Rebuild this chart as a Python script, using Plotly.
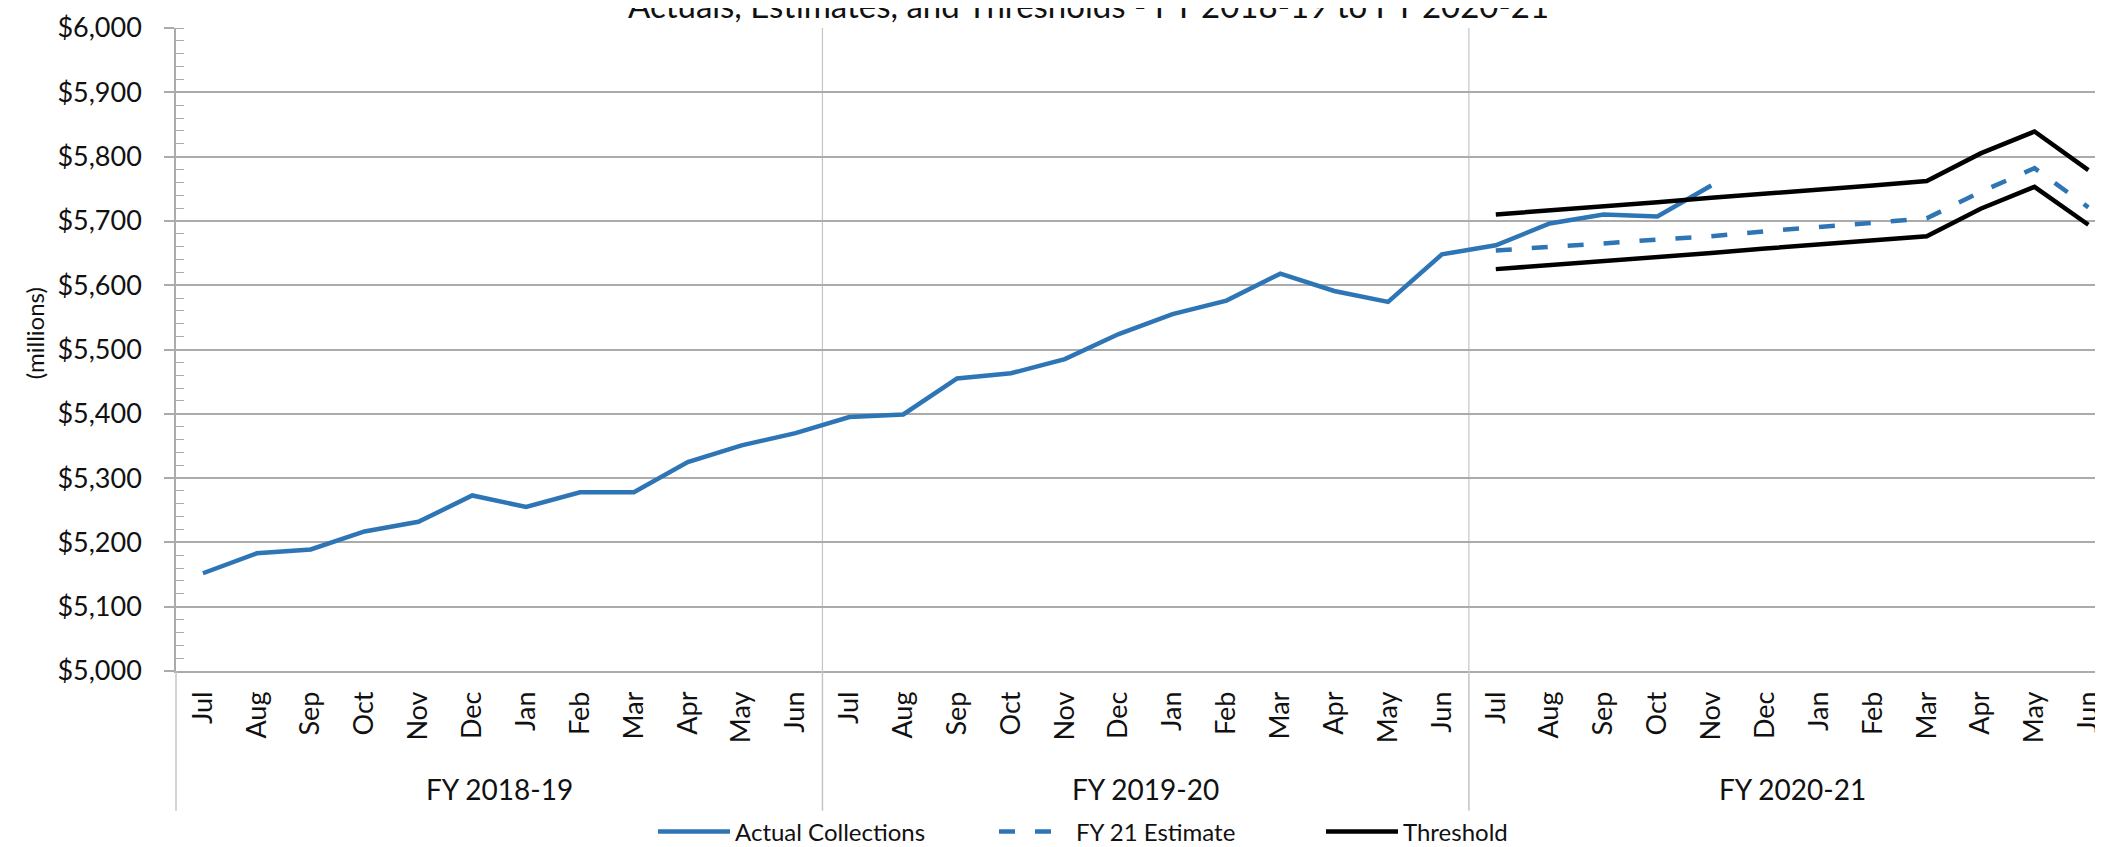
import plotly.graph_objects as go

# ---------------- data ----------------
months = ["Jul", "Aug", "Sep", "Oct", "Nov", "Dec", "Jan", "Feb", "Mar", "Apr", "May", "Jun"]
fiscal_years = ["FY 2018-19", "FY 2019-20", "FY 2020-21"]

actual_collections = [5152, 5183, 5189, 5217, 5232, 5273, 5255, 5278, 5278, 5325, 5351, 5370,
                      5395, 5399, 5455, 5463, 5485, 5524, 5555, 5576, 5618, 5591, 5574, 5648,
                      5662, 5696, 5710, 5707, 5755]
fy21_estimate = [5654, 5659, 5665, 5671, 5676, 5684, 5690, 5697, 5704, 5745, 5782, 5721]
threshold_upper = [5710, 5716, 5723, 5729, 5736, 5742, 5749, 5755, 5762, 5805, 5839, 5779]
threshold_lower = [5625, 5631, 5637, 5644, 5650, 5657, 5663, 5670, 5676, 5719, 5753, 5694]

tick_labels = months * len(fiscal_years)
title_text = "Actuals, Estimates, and Thresholds - FY 2018-19 to FY 2020-21"

# ---------------- geometry / style ----------------
FONT = "Lato, 'Open Sans', sans-serif"
BLUE = "#2E75B6"
GRID = "#ABABAB"
DIV = "#C4C4C4"
W, H = 2103, 847
ML, MT, MB = 168, 20, 174
plot_h = H - MT - MB
plot_w = W - ML

n_cat = len(tick_labels)
cat_idx = list(range(n_cat))
x_range = [-0.5, 35.42]

actual_x = cat_idx[:len(actual_collections)]
fy21_x = cat_idx[n_cat - len(fy21_estimate):]


def xpaper(v):
    return (v - x_range[0]) / (x_range[1] - x_range[0])


def xpx(px):
    # pixel column -> paper x
    return (px - ML) / plot_w


def ypx(py):
    # pixel row (from top) -> paper y
    return (H - MB - py) / plot_h


fig = go.Figure()
fig.add_trace(go.Scatter(x=actual_x, y=actual_collections, mode="lines",
                         name="Actual Collections", legend="legend",
                         line=dict(color=BLUE, width=4.5)))
fig.add_trace(go.Scatter(x=fy21_x, y=fy21_estimate, mode="lines",
                         name="FY 21 Estimate", legend="legend2",
                         line=dict(color=BLUE, width=4.5, dash="16px,20px")))
fig.add_trace(go.Scatter(x=fy21_x, y=threshold_upper, mode="lines",
                         name="Threshold", legendgroup="thr", legend="legend3",
                         line=dict(color="black", width=4.5)))
fig.add_trace(go.Scatter(x=fy21_x, y=threshold_lower, mode="lines",
                         name="Threshold", legendgroup="thr", showlegend=False,
                         legend="legend3",
                         line=dict(color="black", width=4.5)))

shapes = []
per_group = len(months)
bounds = [g * per_group - 0.5 for g in range(len(fiscal_years))]
for b in bounds:
    xp = xpaper(b)
    if b > x_range[0]:
        shapes.append(dict(type="line", xref="paper", yref="paper", x0=xp, x1=xp,
                           y0=0, y1=1, line=dict(color=DIV, width=1.2), layer="below"))
    shapes.append(dict(type="line", xref="paper", yref="paper", x0=xp, x1=xp,
                       y0=0, y1=ypx(815), line=dict(color=DIV, width=1.5)))

annotations = []
for g, fy in enumerate(fiscal_years):
    annotations.append(dict(text=fy, xref="x", yref="paper",
                            x=g * per_group + (per_group - 1) / 2, y=ypx(793),
                            showarrow=False, xanchor="center", yanchor="middle",
                            font=dict(family=FONT, size=28, color="#111")))
annotations.append(dict(text="(millions)", xref="paper", yref="paper",
                        x=xpx(26), y=ypx(330), textangle=-90, showarrow=False,
                        xanchor="center", yanchor="middle",
                        font=dict(family=FONT, size=24, color="#111")))
annotations.append(dict(text=title_text, xref="paper", yref="paper",
                        x=xpx(1080), y=ypx(19), xanchor="center", yanchor="bottom",
                        showarrow=False,
                        font=dict(family=FONT, size=33, color="#111")))

legend_common = dict(orientation="h", xanchor="left", yanchor="middle",
                     y=ypx(836.5), itemwidth=72, bgcolor="rgba(0,0,0,0)",
                     font=dict(family=FONT, size=24, color="#111"))

fig.update_layout(
    width=W, height=H,
    margin=dict(l=ML, r=0, t=MT, b=MB),
    paper_bgcolor="white", plot_bgcolor="white",
    font=dict(family=FONT, color="#111"),
    showlegend=True,
    legend=dict(x=xpx(645), **legend_common),
    legend2=dict(x=xpx(986), **legend_common),
    legend3=dict(x=xpx(1313), **legend_common),
    shapes=shapes,
    annotations=annotations,
)

fig.update_xaxes(
    range=x_range, automargin=False,
    tickmode="array", tickvals=cat_idx, ticktext=tick_labels,
    tickangle=-90, ticks="", showgrid=False, zeroline=False,
    showline=True, linecolor=GRID, linewidth=1.5,
    tickfont=dict(family=FONT, size=27, color="#111"),
    ticklabelstandoff=8,
)
fig.update_yaxes(
    range=[5000, 6000], dtick=100, tick0=5000, automargin=False,
    tickprefix="$", tickformat=",.0f",
    showgrid=True, gridcolor=GRID, gridwidth=1.5,
    showline=True, linecolor=GRID, linewidth=1.5,
    ticks="outside", ticklen=10, tickcolor=GRID, tickwidth=1.5,
    minor=dict(dtick=20, tick0=5000, ticks="inside", ticklen=8,
               tickcolor=GRID, tickwidth=1.2, showgrid=False),
    zeroline=False, ticklabelstandoff=17,
    tickfont=dict(family=FONT, size=27, color="#111"),
)

fig.write_html("out.html")
